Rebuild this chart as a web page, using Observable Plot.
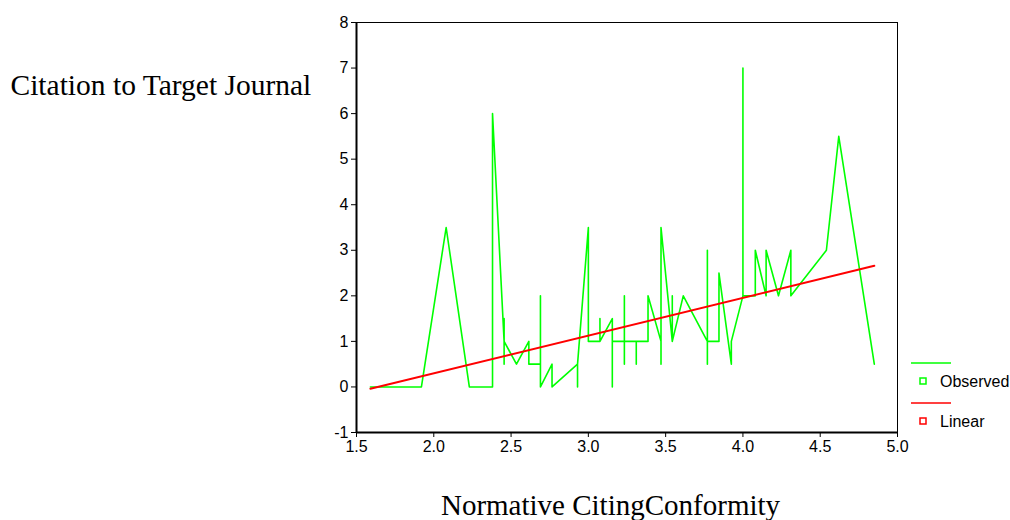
<!DOCTYPE html>
<html>
<head>
<meta charset="utf-8">
<script src="https://cdn.jsdelivr.net/npm/d3@7"></script>
<script src="https://cdn.jsdelivr.net/npm/@observablehq/plot@0.6"></script>
<style>
  html, body { margin: 0; padding: 0; background: white; }
</style>
</head>
<body>
<div id="chart"></div>
<script>
// Observed series (sorted by x, as drawn)
const obsX = [1.59, 1.84, 1.92, 2.08, 2.23, 2.38, 2.38, 2.455, 2.455, 2.455, 2.455, 2.535, 2.615, 2.615,
  2.69, 2.69, 2.69, 2.765, 2.765, 2.93, 2.93, 2.93, 3.0, 3.0, 3.075, 3.075, 3.075, 3.155, 3.155, 3.155,
  3.233, 3.233, 3.233, 3.233, 3.31, 3.31, 3.31, 3.386, 3.386, 3.47, 3.47, 3.47, 3.543, 3.543, 3.543,
  3.614, 3.77, 3.77, 3.77, 3.77, 3.845, 3.845, 3.925, 3.925, 4.0, 4.0, 4.0, 4.08, 4.08, 4.15, 4.15,
  4.23, 4.31, 4.31, 4.54, 4.62, 4.85];
const obsY = [0, 0, 0, 3.5, 0, 0, 6, 1, 1.5, 0.5, 1, 0.5, 1, 0.5,
  0.5, 2, 0, 0.5, 0, 0.5, 0, 0.5, 3.5, 1, 1, 1.5, 1, 1.5, 0, 1,
  1, 2, 0.5, 1, 1, 0.5, 1, 1, 2, 1, 0.5, 3.5, 1, 2, 1,
  2, 1, 3, 0.5, 1, 1, 2.5, 0.5, 1, 2, 7, 2, 2, 3, 2, 3,
  2, 3, 2, 3, 5.5, 0.5];

// Linear fit (endpoints)
const fitX = [1.59, 4.85];
const fitY = [-0.04, 2.66];

// Ticks
const xTicks = [1.5, 2.0, 2.5, 3.0, 3.5, 4.0, 4.5, 5.0];
const yTicks = [-1, 0, 1, 2, 3, 4, 5, 6, 7, 8];

// Texts
const yTitle = "Citation to Target Journal";
const xTitle = "Normative CitingConformity";
const seriesNames = ["Observed", "Linear"];
const seriesColors = ["#00ff00", "#ff0000"];

const observed = obsX.map((x, i) => ({x, y: obsY[i]}));
const fitted = fitX.map((x, i) => ({x, y: fitY[i]}));

const serif = "'Liberation Serif', 'Times New Roman', serif";
const sans = "'Liberation Sans', Arial, sans-serif";

const chart = Plot.plot({
  width: 1010,
  height: 520,
  marginLeft: 356,
  marginRight: 113,
  marginTop: 22,
  marginBottom: 88,
  style: {fontFamily: sans, fontSize: "16px", background: "white", overflow: "visible"},
  x: {domain: [1.5, 5.0]},
  y: {domain: [-1, 8]},
  marks: [
    Plot.frame({stroke: "black", strokeWidth: 1}),
    Plot.axisX({ticks: xTicks, tickFormat: d => d.toFixed(1), tickSize: 5, tickPadding: 3, label: null, fontSize: 16, stroke: "black"}),
    Plot.axisY({ticks: yTicks, tickFormat: d => String(d), tickSize: 5, tickPadding: 3, label: null, fontSize: 16, stroke: "black"}),
    Plot.ruleX([1.5], {stroke: "black", strokeWidth: 2}),
    Plot.ruleY([-1], {stroke: "black", strokeWidth: 2}),
    Plot.line(observed, {x: "x", y: "y", stroke: seriesColors[0], strokeWidth: 1.6, curve: "linear"}),
    Plot.line(fitted, {x: "x", y: "y", stroke: seriesColors[1], strokeWidth: 2}),
    Plot.text([yTitle], {text: d => d, frameAnchor: "top-left", dx: 10 - 356, dy: 94 - 22, textAnchor: "start", lineAnchor: "bottom", fontFamily: serif, fontSize: 29.5, fill: "black"}),
    Plot.text([xTitle], {text: d => d, frameAnchor: "bottom", dx: 610 - (356 + (1010 - 113 - 356) / 2), dy: 514 - 432, textAnchor: "middle", lineAnchor: "bottom", fontFamily: serif, fontSize: 29, fill: "black"})
  ]
});

document.getElementById("chart").appendChild(chart);

// Legend
const svg = d3.select(chart);
const lg = svg.append("g").attr("font-family", sans).attr("font-size", 16).attr("text-anchor", "start");
seriesNames.forEach((name, i) => {
  const y0 = 363 + i * 40;
  lg.append("line").attr("x1", 911).attr("x2", 951).attr("y1", y0).attr("y2", y0)
    .attr("stroke", seriesColors[i]).attr("stroke-width", 1.5);
  lg.append("rect").attr("x", 920).attr("y", y0 + 15).attr("width", 6).attr("height", 6)
    .attr("fill", "white").attr("stroke", seriesColors[i]).attr("stroke-width", 1.5);
  lg.append("text").attr("x", 940).attr("y", y0 + 18).attr("dy", "0.35em")
    .attr("text-anchor", "start").attr("fill", "black").text(name);
});
</script>
</body>
</html>
